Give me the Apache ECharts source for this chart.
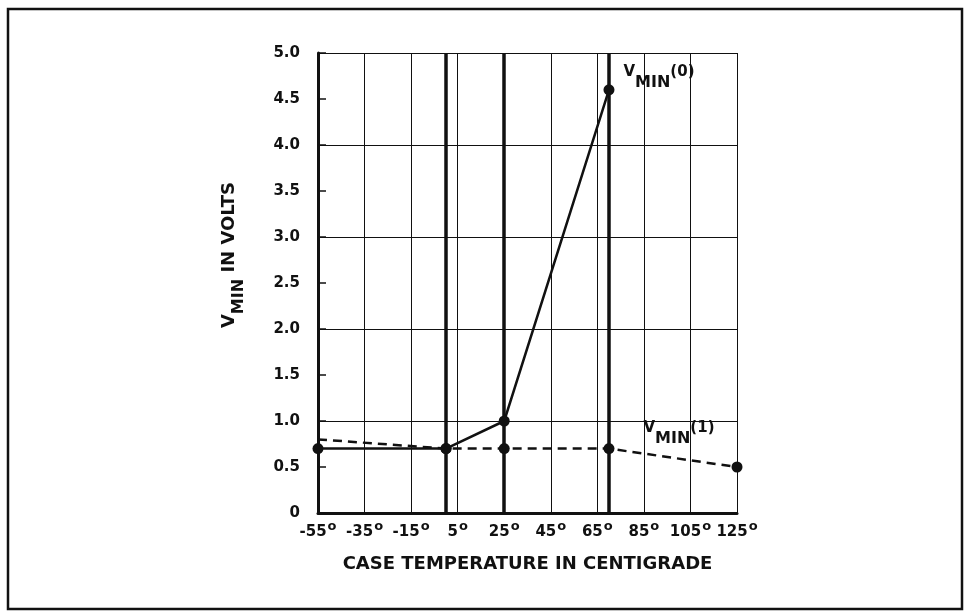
<!DOCTYPE html>
<html>
<head>
<meta charset="utf-8">
<script src="https://cdn.jsdelivr.net/npm/echarts@6/dist/echarts.min.js"></script>
<style>
html, body { margin: 0; padding: 0; background: #fff; }
#chart { width: 968px; height: 614px; }
</style>
</head>
<body>
<div id="chart"></div>
<script>
// V_MIN(0) 实线
const v0Temps = [-55, 0, 25, 70];
const v0Volts = [0.7, 0.7, 1.0, 4.6];
// V_MIN(1) 虚线, 第一个点没有圆点
const v1Temps = [-55, 0, 25, 70, 125];
const v1Volts = [0.8, 0.7, 0.7, 0.7, 0.5];
const v1Marked = [false, true, true, true, true];
// 测试温度处的粗竖线
const testTemps = [0, 25, 70];

const FONT = 'DejaVu Sans, Liberation Sans, sans-serif';
const INK = '#111';

const chart = echarts.init(document.getElementById('chart'));

const v0Data = v0Temps.map((t, i) => [t, v0Volts[i]]);
const v1Data = v1Temps.map((t, i) => ({
    value: [t, v1Volts[i]],
    symbol: v1Marked[i] ? 'circle' : 'none'
}));

// 曲线名称标签: V 下标 MIN 上标 (n)
const nameRich = {
    v: { fontFamily: FONT, fontWeight: 'bold', fontSize: 15, color: INK, lineHeight: 16, verticalAlign: 'top' },
    s: { fontFamily: FONT, fontWeight: 'bold', fontSize: 16, color: INK, lineHeight: 36 },
    p: { fontFamily: FONT, fontWeight: 'bold', fontSize: 15, color: INK, lineHeight: 14, verticalAlign: 'top' }
};

v0Data[v0Data.length - 1] = {
    value: v0Data[v0Data.length - 1],
    label: {
        show: true,
        position: 'right',
        distance: 9,
        offset: [0, -7],
        formatter: '{v|V}{s|MIN}{p|(0)}',
        rich: nameRich
    }
};
v1Data[3].label = {
    show: true,
    position: 'right',
    distance: 29,
    offset: [0, -10],
    formatter: '{v|V}{s|MIN}{p|(1)}',
    rich: nameRich
};

const option = {
    animation: false,
    backgroundColor: '#fff',
    grid: { left: 318, right: 231, top: 53, bottom: 101 },
    graphic: [{
        type: 'rect',
        shape: { x: 8, y: 9, width: 954, height: 600 },
        style: { fill: 'none', stroke: '#111', lineWidth: 2.5 },
        silent: true
    }],
    xAxis: {
        type: 'value',
        min: -55,
        max: 125,
        interval: 20,
        name: 'CASE TEMPERATURE IN CENTIGRADE',
        nameLocation: 'middle',
        nameGap: 42,
        nameTextStyle: { fontFamily: FONT, fontWeight: 'bold', fontSize: 18, color: INK },
        axisLine: { show: true, onZero: false, lineStyle: { color: INK, width: 3 } },
        axisTick: { show: false },
        axisLabel: {
            margin: 7,
            formatter: v => `{n|${v}}{d|o}`,
            rich: {
                n: { fontFamily: FONT, fontWeight: 'bold', fontSize: 15, color: INK, lineHeight: 24 },
                d: { fontFamily: FONT, fontWeight: 'bold', fontSize: 13, color: INK, lineHeight: 10, verticalAlign: 'top', padding: [0, 0, 0, 1] }
            }
        },
        splitLine: { show: true, lineStyle: { color: INK, width: 1 } }
    },
    yAxis: [{
        type: 'value',
        min: 0,
        max: 5,
        interval: 0.5,
        name: '{v|V}{s|MIN}{v| IN VOLTS}',
        nameLocation: 'middle',
        nameGap: 60,
        nameTextStyle: {
            padding: [0, 0, 0, 56],
            rich: {
                v: { fontFamily: FONT, fontWeight: 'bold', fontSize: 18, color: INK, lineHeight: 20, verticalAlign: 'top' },
                s: { fontFamily: FONT, fontWeight: 'bold', fontSize: 16, color: INK, lineHeight: 38 }
            }
        },
        axisLine: { show: true, onZero: false, lineStyle: { color: INK, width: 3 } },
        axisTick: { show: true, inside: true, length: 8, lineStyle: { color: INK, width: 1.5 } },
        axisLabel: {
            margin: 18,
            fontFamily: FONT,
            fontWeight: 'bold',
            fontSize: 15,
            color: INK,
            formatter: v => (v === 0 ? '0' : v.toFixed(1))
        },
        splitLine: { show: false }
    }, {
        // 整数伏特处的网格线
        type: 'value',
        min: 0,
        max: 5,
        interval: 1,
        position: 'left',
        axisLine: { show: false },
        axisTick: { show: false },
        axisLabel: { show: false },
        splitLine: { show: true, lineStyle: { color: INK, width: 1 } }
    }],
    series: [{
        name: 'VMIN(0)',
        type: 'line',
        data: v0Data,
        symbol: 'circle',
        symbolSize: 11,
        lineStyle: { color: INK, width: 2.5 },
        itemStyle: { color: INK },
        z: 5,
        markLine: {
            silent: true,
            symbol: 'none',
            label: { show: false },
            lineStyle: { color: INK, width: 3.5, type: 'solid' },
            data: testTemps.map(t => ({ xAxis: t }))
        }
    }, {
        name: 'VMIN(1)',
        type: 'line',
        data: v1Data,
        symbol: 'circle',
        symbolSize: 11,
        lineStyle: { color: INK, width: 2.5, type: [9, 6] },
        itemStyle: { color: INK },
        z: 4
    }]
};

chart.setOption(option);
window.addEventListener('resize', () => chart.resize());
</script>
</body>
</html>
